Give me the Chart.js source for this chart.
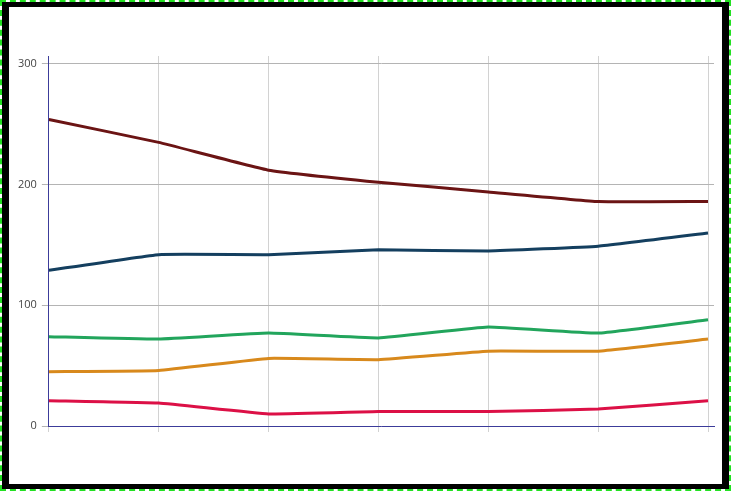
<!DOCTYPE html>
<html>
<head>
<meta charset="utf-8">
<script src="https://cdn.jsdelivr.net/npm/chart.js@4.4.1/dist/chart.umd.min.js"></script>
<style>
    html, body { margin: 0; padding: 0; background: #fff; }
    #frame { width: 731px; height: 491px; box-sizing: border-box; border: 2px dashed #22e022; background: #fff; }
    #inner { width: 100%; height: 100%; box-sizing: border-box; border: solid #000; border-width: 5px 7px 5px 7px; }
    #wrap { position: relative; width: 713px; height: 477px; }
</style>
</head>
<body>
<div id="frame">
    <div id="inner">
        <div id="wrap"><canvas id="line-chart"></canvas></div>
    </div>
</div>
<script>
// x categories carry no visible labels in the reference
const categories = ['1', '2', '3', '4', '5', '6', '7'];
const yTicks = [0, 100, 200, 300];

const seriesMaroon = [254, 235, 212, 202, 194, 186, 186];
const seriesNavy = [129, 142, 142, 146, 145, 149, 160];
const seriesGreen = [74, 72, 77, 73, 82, 77, 88];
const seriesOrange = [45, 46, 56, 55, 62, 62, 72];
const seriesRed = [21, 19, 10, 12, 12, 14, 21];

const toPoints = values => values.map((v, i) => ({ x: i, y: v }));

const makeSet = (label, values, color) => ({
    label: label,
    data: toPoints(values),
    borderColor: color,
    backgroundColor: color,
    borderWidth: 3,
    pointRadius: 0,
    pointHoverRadius: 0,
    tension: 0.1,
    fill: false,
});

Chart.defaults.font.family = "'Open Sans', sans-serif";
Chart.defaults.font.size = 11;
Chart.defaults.color = '#444';

const ctx = document.getElementById('line-chart').getContext('2d');
new Chart(ctx, {
    type: 'line',
    data: {
        datasets: [
            makeSet('A', seriesMaroon, '#6b1414'),
            makeSet('B', seriesNavy, '#143f5f'),
            makeSet('C', seriesGreen, '#22a55c'),
            makeSet('D', seriesOrange, '#d8891c'),
            makeSet('E', seriesRed, '#dc1046'),
        ]
    },
    options: {
        responsive: true,
        maintainAspectRatio: false,
        animation: false,
        layout: {
            padding: { top: 49, left: 4, right: 8, bottom: 52 }
        },
        plugins: {
            legend: { display: false },
            tooltip: { enabled: false },
        },
        scales: {
            x: {
                type: 'linear',
                min: 0,
                max: categories.length - 1 + 6 / 110,
                afterBuildTicks: axis => {
                    axis.ticks = categories.map((c, i) => ({ value: i }));
                },
                ticks: { display: false },
                grid: { color: '#d2d2d2', tickLength: 6 },
                border: { color: '#3c3c9a', width: 1 },
            },
            y: {
                min: 0,
                max: 306.6,
                afterBuildTicks: axis => {
                    axis.ticks = yTicks.map(v => ({ value: v }));
                },
                ticks: { padding: 5 },
                grid: { color: '#b4b4b4', tickLength: 7 },
                border: { color: '#3c3c9a', width: 1 },
            }
        }
    }
});
</script>
</body>
</html>
